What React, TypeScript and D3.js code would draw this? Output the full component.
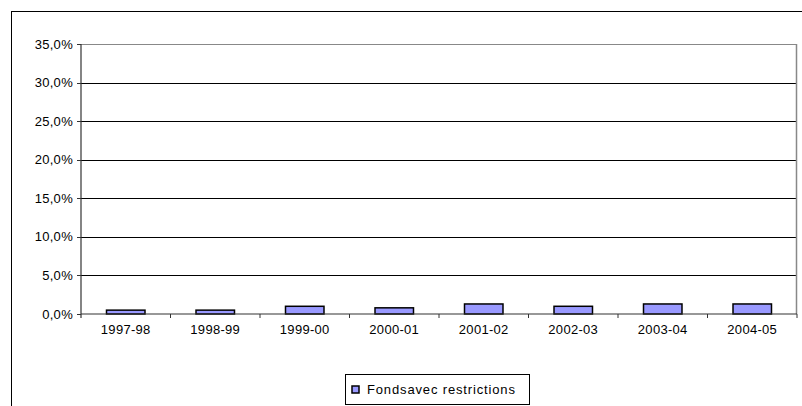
import React from "react";
import * as d3 from "d3";

const categories = ["1997-98", "1998-99", "1999-00", "2000-01", "2001-02", "2002-03", "2003-04", "2004-05"];
const values = [0.5, 0.5, 1.0, 0.8, 1.3, 1.0, 1.3, 1.3];
const yTicks = [0, 5, 10, 15, 20, 25, 30, 35];
const seriesName = "Fondsavec restrictions";

const W = 802, H = 406;
const plot = { left: 81, right: 797, top: 44, bottom: 314 };

export default function App() {
  const x = d3.scaleBand<string>().domain(categories).range([plot.left, plot.right]).paddingInner(0.57).paddingOuter(0.285);
  const xb = d3.scaleBand<string>().domain(categories).range([plot.left, plot.right]);
  const y = d3.scaleLinear().domain([0, 35]).range([plot.bottom, plot.top]);
  const fmt = (v: number) => v.toFixed(1).replace(".", ",") + "%";
  const font = "'Liberation Sans', Arial, sans-serif";
  return (
    <svg width={W} height={H} style={{ position: "absolute", left: 0, top: 0, background: "#fff" }} fontFamily={font}>
      <rect x={11.5} y={11.5} width={W + 10} height={H + 10} fill="#fff" stroke="#000" strokeWidth={1} />
      {yTicks.slice(1, -1).map((t) => (
        <line key={t} x1={plot.left} x2={plot.right} y1={Math.round(y(t)) + 0.5} y2={Math.round(y(t)) + 0.5} stroke="#000" strokeWidth={1} />
      ))}
      <line x1={plot.left} x2={plot.right} y1={plot.top + 0.5} y2={plot.top + 0.5} stroke="#888" strokeWidth={1} />
      <line x1={plot.right - 0.5} x2={plot.right - 0.5} y1={plot.top} y2={plot.bottom} stroke="#888" strokeWidth={1.5} />
      {categories.map((c, i) => (
        <rect key={c} x={x(c)} y={y(values[i])} width={x.bandwidth()} height={plot.bottom - y(values[i])} fill="#9999FF" stroke="#000" strokeWidth={1.5} />
      ))}
      <line x1={plot.left} x2={plot.left} y1={plot.top} y2={plot.bottom + 4} stroke="#333" strokeWidth={1.2} />
      <line x1={plot.left} x2={plot.right} y1={plot.bottom} y2={plot.bottom} stroke="#333" strokeWidth={1.2} />
      {yTicks.map((t) => (
        <g key={t}>
          <line x1={plot.left - 4} x2={plot.left} y1={Math.round(y(t)) + 0.5} y2={Math.round(y(t)) + 0.5} stroke="#333" />
          <text x={73} y={y(t) + 4.5} fontSize={13} textAnchor="end" fill="#000" letterSpacing={0.3}>{fmt(t)}</text>
        </g>
      ))}
      {categories.map((c) => (
        <g key={c}>
          <line x1={(xb(c) as number) + xb.bandwidth()} x2={(xb(c) as number) + xb.bandwidth()} y1={plot.bottom} y2={plot.bottom + 4} stroke="#333" />
          <text x={(xb(c) as number) + xb.bandwidth() / 2} y={334} fontSize={13} textAnchor="middle" fill="#000" letterSpacing={0.3}>{c}</text>
        </g>
      ))}
      <rect x={345.5} y={374.5} width={184} height={30} fill="#fff" stroke="#000" strokeWidth={1} />
      <rect x={352} y={386} width={7} height={7} fill="#9999FF" stroke="#000" strokeWidth={1.5} />
      <text x={367} y={393.5} fontSize={13} fill="#000" letterSpacing={0.85}>{seriesName}</text>
    </svg>
  );
}
